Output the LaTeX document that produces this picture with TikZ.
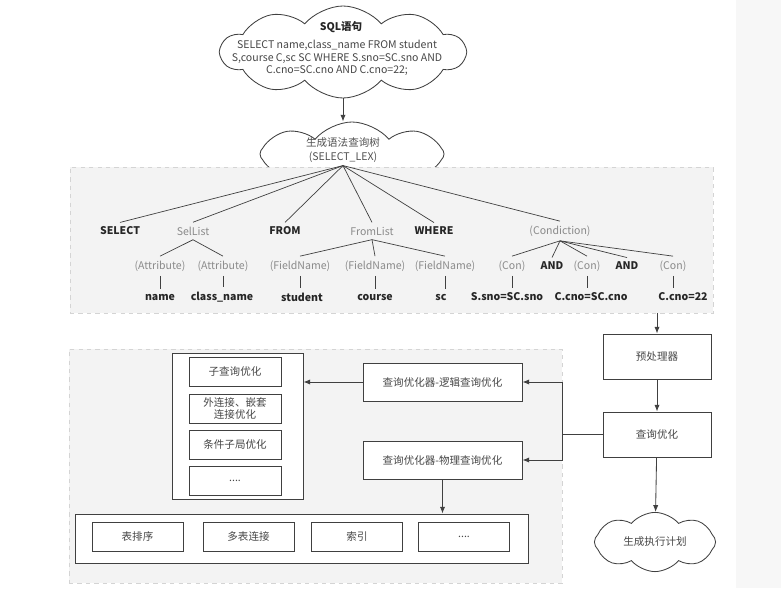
\documentclass[tikz,border=0pt]{standalone}
\usepackage{fontspec}
\usepackage{tikz}
\usetikzlibrary{arrows.meta,shapes.symbols}
\setmainfont{Noto Sans CJK SC}
\definecolor{trait}{HTML}{404040}
\definecolor{fondP}{HTML}{F3F3F3}
\definecolor{bordP}{HTML}{D4D4D4}
\definecolor{fondD}{HTML}{F7F7F7}
\definecolor{grisT}{HTML}{8A8A8A}
\definecolor{noirT}{HTML}{262626}
\newcommand{\taille}{\fontsize{7.5}{9}\selectfont}
\tikzset{
  boite/.style={rectangle, draw=trait, line width=0.6pt, fill=white, align=center,
                text=noirT!85, inner sep=1pt, minimum width=2.3cm, minimum height=0.725cm},
  nuage/.style={cloud, cloud puffs=#1, cloud puff arc=100, cloud ignores aspect, draw=trait,
                line width=0.6pt, fill=white, align=center},
  panneau/.style={rectangle, draw=bordP, dashed, fill=fondP, line width=0.6pt},
  kw/.style={font=\taille\bfseries, text=noirT, inner sep=3pt},
  nt/.style={text=grisT, inner sep=3pt},
  lien/.style={draw=trait, line width=0.5pt},
  arr/.style={-{Latex[length=1.7mm,width=1.3mm]}, line width=0.6pt, draw=trait},
}
\begin{document}
\begin{tikzpicture}[font=\taille]
    \useasboundingbox (0,0) rectangle (19.525,-14.7);
    \fill[fondD] (18.4,0) rectangle (19.525,-14.7);
    % Nuages du haut
    \node[nuage=10, minimum width=6.1cm, minimum height=2.3cm] (sqlnuage) at (8.575,-1.3) {};
    \node[kw] (sqltit) at (8.525,-0.675) {SQL语句};
    \node[align=center, text=noirT!85, inner sep=1pt, font=\fontsize{7.5}{8.9}\selectfont] (sqltxt) at (8.425,-1.45)
      {SELECT name,class\_name FROM student\\S,course C,sc SC WHERE S.sno=SC.sno AND\\C.cno=SC.cno AND C.cno=22;};
    \node[nuage=8, minimum width=4.6cm, minimum height=1.6cm] (lexnuage) at (8.8,-3.85) {};
    % Panneaux
    \node[panneau, minimum width=16.075cm, minimum height=3.65cm] (arbre) at (9.7875,-6.0) {};
    \node[panneau, minimum width=12.325cm, minimum height=5.85cm] (optim) at (7.8875,-11.65) {};
    \node[align=center, text=noirT!80, inner sep=2pt] (lex) at (8.575,-3.75) {生成语法查询树\\[1pt](SELECT\_LEX)};
    % Arbre : niveau 1
    \node[kw] (sel) at (3.0,-5.775) {SELECT};
    \node[nt] (sellist) at (4.825,-5.775) {SelList};
    \node[kw] (from) at (7.125,-5.775) {FROM};
    \node[nt] (fromlist) at (9.3,-5.775) {FromList};
    \node[kw] (where) at (10.85,-5.775) {WHERE};
    \node[nt] (cond) at (14.0,-5.775) {(Condiction)};
    % Arbre : niveau 2
    \node[nt] (attr1) at (4.0,-6.65) {(Attribute)};
    \node[nt] (attr2) at (5.575,-6.65) {(Attribute)};
    \node[nt] (fn1) at (7.5,-6.65) {(FieldName)};
    \node[nt] (fn2) at (9.375,-6.65) {(FieldName)};
    \node[nt] (fn3) at (11.125,-6.65) {(FieldName)};
    \node[nt] (con1) at (12.8,-6.65) {(Con)};
    \node[kw] (and1) at (13.8,-6.65) {AND};
    \node[nt] (con2) at (14.675,-6.65) {(Con)};
    \node[kw] (and2) at (15.675,-6.65) {AND};
    \node[nt] (con3) at (16.825,-6.65) {(Con)};
    % Arbre : niveau 3
    \node[kw] (name) at (4.0,-7.425) {name};
    \node[kw] (clname) at (5.55,-7.425) {class\_name};
    \node[kw] (student) at (7.55,-7.425) {student};
    \node[kw] (course) at (9.375,-7.425) {course};
    \node[kw] (sc) at (11.025,-7.425) {sc};
    \node[kw] (eq1) at (12.675,-7.425) {S.sno=SC.sno};
    \node[kw] (eq2) at (14.775,-7.425) {C.cno=SC.cno};
    \node[kw] (eq3) at (17.075,-7.425) {C.cno=22};
    % Liens de l'arbre
    \draw[lien] (lex.south) -- (sel.north); \draw[lien] (lex.south) -- (sellist.north);
    \draw[lien] (lex.south) -- (from.north); \draw[lien] (lex.south) -- (fromlist.north);
    \draw[lien] (lex.south) -- (where.north); \draw[lien] (lex.south) -- (cond.north);
    \draw[lien] (sellist.south) -- (attr1.north); \draw[lien] (sellist.south) -- (attr2.north);
    \draw[lien] (fromlist.south) -- (fn1.north); \draw[lien] (fromlist.south) -- (fn2.north);
    \draw[lien] (fromlist.south) -- (fn3.north);
    \draw[lien] (cond.south) -- (con1.north); \draw[lien] (cond.south) -- (and1.north);
    \draw[lien] (cond.south) -- (con2.north); \draw[lien] (cond.south) -- (and2.north);
    \draw[lien] (cond.south) -- (con3.north);
    \draw[lien] (attr1.south) -- (attr1.south |- name.north);
    \draw[lien] (attr2.south) -- (attr2.south |- clname.north);
    \draw[lien] (fn1.south) -- (fn1.south |- student.north);
    \draw[lien] (fn2.south) -- (fn2.south |- course.north);
    \draw[lien] (fn3.south) -- (fn3.south |- sc.north);
    \draw[lien] (con1.south) -- (con1.south |- eq1.north);
    \draw[lien] (con2.south) -- (con2.south |- eq2.north);
    \draw[lien] (con3.south) -- (con3.south |- eq3.north);
    % Chaine de droite
    \node[boite, minimum width=2.7cm, minimum height=1.125cm] (pretrait) at (16.425,-8.9125) {预处理器};
    \node[boite, minimum width=2.7cm, minimum height=1.125cm] (qopt) at (16.425,-10.8625) {查询优化};
    \node[nuage=8, minimum width=3.03cm, minimum height=1.48cm, text=noirT!85] (plan) at (16.375,-13.55) {生成执行计划};
    \node[boite, minimum width=3.975cm, minimum height=0.95cm] (logique) at (11.0625,-9.55) {查询优化器-逻辑查询优化};
    \node[boite, minimum width=3.975cm, minimum height=0.95cm] (physique) at (11.0625,-11.5) {查询优化器-物理查询优化};
    \coordinate (jonction) at (14.05,-10.8625);
    % Optimisation logique
    \node[boite, minimum width=3.275cm, minimum height=3.65cm] (reglog) at (5.9375,-10.65) {};
    \node[boite] (sousreq) at (5.875,-9.2875) {子查询优化};
    \node[boite, font=\fontsize{7.5}{8.5}\selectfont] (jointext) at (5.875,-10.2125) {外连接、嵌套\\连接优化};
    \node[boite] (clause) at (5.875,-11.1125) {条件子局优化};
    \node[boite] (etclog) at (5.875,-12.0125) {....};
    % Optimisation physique
    \node[boite, minimum width=11.325cm, minimum height=1.225cm] (regphy) at (7.5375,-13.4625) {};
    \node[boite, minimum width=2.275cm] (tri) at (3.4375,-13.4125) {表排序};
    \node[boite, minimum width=2.275cm] (multi) at (6.2125,-13.4125) {多表连接};
    \node[boite, minimum width=2.275cm] (index) at (8.925,-13.4125) {索引};
    \node[boite, minimum width=2.275cm] (etcphy) at (11.6,-13.4125) {....};
    % Flèches
    \draw[arr] (sqlnuage.south) -- (sqlnuage.south |- lexnuage.north);
    \draw[arr] (pretrait.north |- arbre.south) -- (pretrait.north);
    \draw[arr] (pretrait) -- (qopt);
    \draw[arr] (qopt) -- (plan);
    \draw[lien] (qopt.west) -- (jonction);
    \draw[arr] (jonction) |- (logique.east);
    \draw[arr] (jonction) |- (physique.east);
    \draw[arr] (logique.west) -- (logique.west -| reglog.east);
    \draw[arr] (physique.south) -- (physique.south |- regphy.north);
\end{tikzpicture}
\end{document}
